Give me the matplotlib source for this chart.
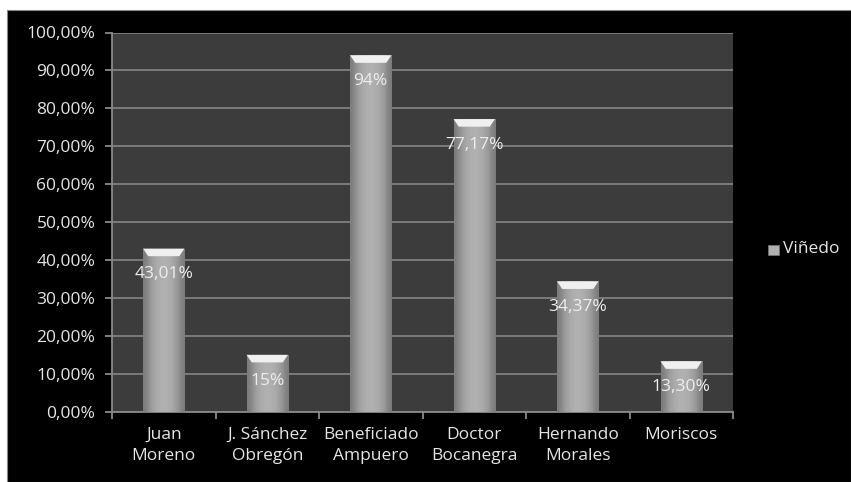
import matplotlib
matplotlib.use("Agg")
import matplotlib.pyplot as plt
import numpy as np
from matplotlib.patches import Rectangle, Polygon
from matplotlib.ticker import FuncFormatter, MultipleLocator
from matplotlib.colors import LinearSegmentedColormap

categories = ["Juan\nMoreno", "J. Sánchez\nObregón", "Beneficiado\nAmpuero",
              "Doctor\nBocanegra", "Hernando\nMorales", "Moriscos"]
values = [43.01, 15.0, 94.0, 77.17, 34.37, 13.30]
labels = ["43,01%", "15%", "94%", "77,17%", "34,37%", "13,30%"]
series_name = "Viñedo"

plt.rcParams['font.family'] = ['Open Sans', 'DejaVu Sans']
FS = 12.5

W, H = 851, 482
fig = plt.figure(figsize=(W/100, H/100), dpi=100, facecolor='white')
# black chart area
fig.add_artist(Rectangle((7/W, 0), 1 - 7/W, 1 - 10/H, transform=fig.transFigure,
                         facecolor='black', edgecolor='#888888', linewidth=0.8, zorder=-10))

ax = fig.add_axes([112/W, 1 - 411.7/H, (733-112)/W, (411.7-32.5)/H])
ax.set_zorder(1)
ax.set_facecolor('#3c3c3c')
x = np.arange(len(categories))
bw = 0.4

ax.yaxis.set_major_locator(MultipleLocator(10))
ax.yaxis.set_major_formatter(FuncFormatter(lambda v, p: f"{v:.2f}%".replace('.', ',')))
ax.grid(axis='y', color='#808080', linewidth=1.3, zorder=1)
ax.set_axisbelow(True)

for s in ['top', 'right']:
    ax.spines[s].set_visible(False)
for s in ['left', 'bottom']:
    ax.spines[s].set_color('#8a8a8a')
    ax.spines[s].set_linewidth(1.3)

ax.set_xticks(np.arange(-0.5, len(categories), 1.0), minor=False)
ax.set_xticklabels([])
ax.set_xticks(x, minor=True)
ax.set_xticklabels(categories, minor=True, linespacing=1.45)
ax.tick_params(axis='x', which='major', length=5, color='#8a8a8a', width=1.3)
ax.tick_params(axis='x', which='minor', length=0, pad=11, labelsize=FS, labelcolor='#e6e6e6')
ax.tick_params(axis='y', length=5, color='#8a8a8a', width=1.3, labelsize=FS,
               labelcolor='#e6e6e6', pad=7)

grad = np.array([[0.0, 0.4, 0.65, 0.8, 0.88, 0.88, 0.8, 0.65, 0.4, 0.0]])
cmap = LinearSegmentedColormap.from_list('g', ['#7c7c7c', '#b8b8b8'])

bars = ax.bar(x, values, width=bw, color='#a8a8a8', zorder=2, linewidth=0)
for xi, v, b in zip(x, values, bars):
    im = ax.imshow(grad, extent=(xi - bw/2, xi + bw/2, 0, v), aspect='auto',
                   cmap=cmap, vmin=0, vmax=1, zorder=3, interpolation='bicubic')
    im.set_clip_path(b)
    bev = Polygon([(xi - bw/2, v), (xi + bw/2, v), (xi + bw/2 - 0.05, v - 2.0),
                   (xi - bw/2 + 0.05, v - 2.0)], closed=True,
                  facecolor='#f0f0f0', edgecolor='none', zorder=4)
    ax.add_patch(bev)
ax.set_xlim(-0.5, len(categories) - 0.5)
ax.set_ylim(0, 100)

for xi, v, lab in zip(x, values, labels):
    ax.text(xi, v - 6.8, lab, ha='center', va='center', color='#eeeeee',
            fontsize=FS, zorder=5)

# legend
lx, ly = 773.5/W, 1 - 250/H
fig.add_artist(Rectangle((lx - 5.5/W, ly - 5/H), 11/W, 10/H, transform=fig.transFigure,
                         facecolor='#b0b0b0', edgecolor='#707070', linewidth=0.6, zorder=3))
fig.text(783/W, 1 - 249/H, series_name, color='#e6e6e6', fontsize=FS, va='center', ha='left')

fig.savefig('out.png', dpi=100, facecolor='white')
